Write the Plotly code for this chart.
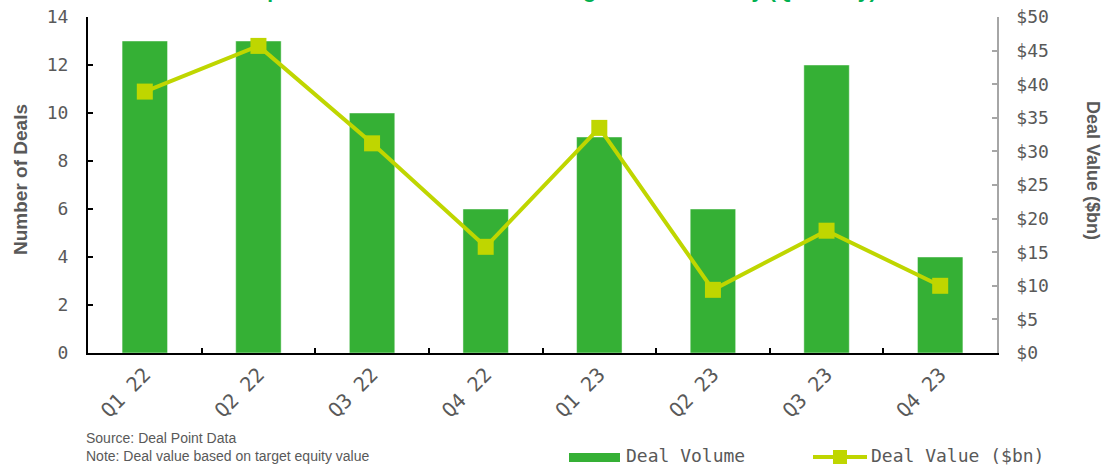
import plotly.graph_objects as go

# Quarterly take-private activity
quarters = ["Q1 22", "Q2 22", "Q3 22", "Q4 22", "Q1 23", "Q2 23", "Q3 23", "Q4 23"]
deal_volume = [13, 13, 10, 6, 9, 6, 12, 4]
deal_value_bn = [38.9, 45.7, 31.2, 15.8, 33.5, 9.4, 18.2, 10.0]
value_ticks = list(range(0, 51, 5))
value_tick_labels = [f"${v}" for v in value_ticks]

BAR_GREEN = "#35B035"
LINE_GREEN = "#BFD600"
TITLE_GREEN = "#00B050"
GREY = "#595959"
MONO = "DejaVu Sans Mono"

W, H = 1104, 466
L, R, T, B = 88, 107, 17, 113
PW, PH = W - L - R, H - T - B


def px_x(x):
    return (x - L) / PW


def px_y(y):
    return (H - B - y) / PH


fig = go.Figure()

fig.add_trace(go.Bar(
    x=quarters, y=deal_volume, name="Deal Volume",
    marker=dict(color=BAR_GREEN, line=dict(color="rgba(255,255,255,0.45)", width=1)),
    width=0.4, yaxis="y",
))

fig.add_trace(go.Scatter(
    x=quarters, y=deal_value_bn, name="Deal Value ($bn)", mode="lines+markers",
    line=dict(color=LINE_GREEN, width=4),
    marker=dict(symbol="square", size=16, color=LINE_GREEN),
    yaxis="y2",
))

fig.update_layout(
    width=W, height=H,
    margin=dict(l=L, r=R, t=T, b=B, autoexpand=False),
    paper_bgcolor="white", plot_bgcolor="white",
    showlegend=False,
    xaxis=dict(
        type="category", automargin=False,
        showline=True, linecolor="black", linewidth=2,
        ticks="inside", tickson="boundaries", ticklen=5, tickcolor="black", tickwidth=2,
        tickangle=-45,
        tickfont=dict(family=MONO, size=20, color=GREY),
        showgrid=False, zeroline=False,
    ),
    yaxis=dict(
        range=[0, 14], dtick=2, automargin=False,
        showline=True, linecolor="black", linewidth=2,
        ticks="inside", ticklen=5, tickcolor="black", tickwidth=2,
        tickfont=dict(family=MONO, size=18, color=GREY),
        ticklabelstandoff=14,
        showgrid=False, zeroline=False,
    ),
    yaxis2=dict(
        range=[0, 50], overlaying="y", side="right", automargin=False,
        tickvals=value_ticks, ticktext=value_tick_labels,
        showline=True, linecolor="#A6A6A6", linewidth=1.5,
        ticks="inside", ticklen=5, tickcolor="#A6A6A6", tickwidth=1.5,
        tickfont=dict(family=MONO, size=18, color=GREY),
        ticklabelstandoff=14,
        showgrid=False, zeroline=False,
    ),
)

annotations = [
    # chart title (sits at the top edge)
    dict(text="US Take-private Deals Announced Among Issuers: Activity (Quarterly)",
         x=px_x(878), y=px_y(4), xanchor="right", yanchor="bottom",
         font=dict(family="Liberation Sans", size=21, color=TITLE_GREEN, weight="bold")),
    # axis titles
    dict(text="Number of Deals", x=px_x(20), y=px_y(180), textangle=-90,
         xanchor="center", yanchor="middle",
         font=dict(family="Liberation Sans", size=19, color=GREY, weight="bold")),
    dict(text="Deal Value ($bn)", x=px_x(1093), y=px_y(170), textangle=90,
         xanchor="center", yanchor="middle",
         font=dict(family="Liberation Sans", size=18, color=GREY, weight="bold")),
    # footnotes
    dict(text="Source: Deal Point Data", x=px_x(84), y=px_y(438),
         xanchor="left", yanchor="middle",
         font=dict(family="Liberation Sans", size=14, color=GREY)),
    dict(text="Note: Deal value based on target equity value", x=px_x(84), y=px_y(456),
         xanchor="left", yanchor="middle",
         font=dict(family="Liberation Sans", size=14, color=GREY)),
    # legend labels
    dict(text="Deal Volume", x=px_x(625), y=px_y(455.5), xanchor="left", yanchor="middle",
         borderpad=0, font=dict(family=MONO, size=18, color=GREY)),
    dict(text="Deal Value ($bn)", x=px_x(870), y=px_y(455.5), xanchor="left", yanchor="middle",
         borderpad=0, font=dict(family=MONO, size=18, color=GREY)),
]
for a in annotations:
    a.update(xref="paper", yref="paper", showarrow=False)
fig.update_layout(annotations=annotations)

# legend swatches
fig.update_layout(shapes=[
    dict(type="rect", xref="paper", yref="paper",
         x0=px_x(569), x1=px_x(620), y0=px_y(453), y1=px_y(462),
         fillcolor=BAR_GREEN, line=dict(width=0)),
    dict(type="line", xref="paper", yref="paper",
         x0=px_x(813), x1=px_x(867), y0=px_y(457), y1=px_y(457),
         line=dict(color=LINE_GREEN, width=4)),
    dict(type="rect", xref="paper", yref="paper",
         x0=px_x(833), x1=px_x(847), y0=px_y(450), y1=px_y(464),
         fillcolor=LINE_GREEN, line=dict(width=0)),
])

fig.write_html("out.html")
